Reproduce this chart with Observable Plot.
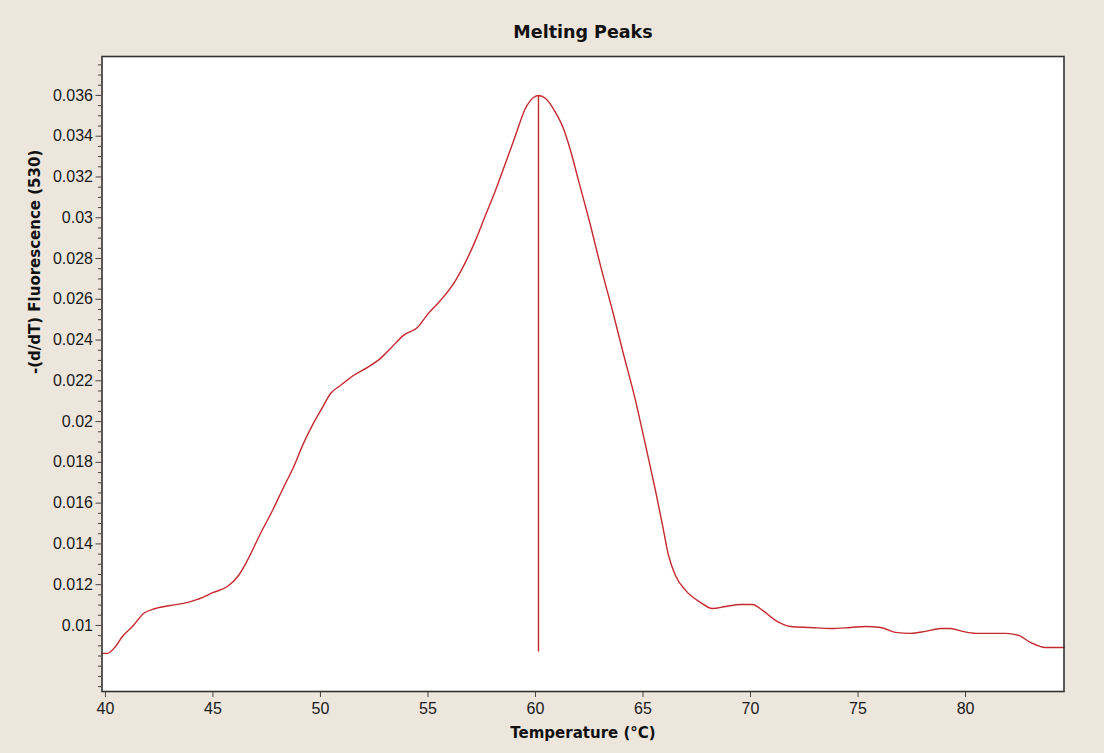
<!DOCTYPE html>
<html>
<head>
<meta charset="utf-8">
<script src="https://cdn.jsdelivr.net/npm/d3@7"></script>
<script src="https://cdn.jsdelivr.net/npm/@observablehq/plot@0.6"></script>
<style>
  html, body { margin: 0; padding: 0; background: #ece6dd; overflow: hidden; }
  #chart svg { display: block; }
</style>
</head>
<body>
<div id="chart"></div>
<script>
// ---- data ----
const temperature = [39.84, 40.09, 40.47, 40.79, 41.30, 41.77, 42.33, 43.02, 43.63, 44.28, 45.02, 45.67, 46.19, 46.60, 47.21, 47.77, 48.28, 48.74, 49.21, 49.67, 50.09, 50.47, 50.93, 51.53, 52.19, 52.79, 53.26, 53.86, 54.51, 55.02, 55.58, 56.28, 56.74, 57.21, 57.67, 58.14, 58.60, 59.07, 59.53, 59.91, 60.14, 60.47, 60.93, 61.30, 61.63, 62.00, 62.56, 63.02, 63.58, 64.05, 64.65, 65.12, 65.58, 65.91, 66.19, 66.51, 66.98, 67.67, 68.23, 68.84, 69.53, 70.09, 70.56, 71.16, 71.86, 72.79, 73.72, 74.65, 75.35, 76.05, 76.74, 77.44, 78.14, 78.84, 79.30, 79.86, 80.47, 81.16, 81.86, 82.47, 83.02, 83.72, 84.58];
const fluorescence = [0.00863, 0.00863, 0.00897, 0.00946, 0.0100, 0.01059, 0.01083, 0.01098, 0.01108, 0.01128, 0.01162, 0.01191, 0.01245, 0.01319, 0.01451, 0.01564, 0.01677, 0.01775, 0.01893, 0.01991, 0.02069, 0.02138, 0.02177, 0.02226, 0.02266, 0.02310, 0.02359, 0.02423, 0.02462, 0.02531, 0.02594, 0.02692, 0.02781, 0.02889, 0.03011, 0.03134, 0.03266, 0.03404, 0.03536, 0.03590, 0.03600, 0.03585, 0.03517, 0.03438, 0.03330, 0.03183, 0.02962, 0.02766, 0.02545, 0.02349, 0.02104, 0.01883, 0.01662, 0.01491, 0.01343, 0.01245, 0.01172, 0.01113, 0.01083, 0.01093, 0.01103, 0.01103, 0.01074, 0.01025, 0.00995, 0.0099, 0.00985, 0.0099, 0.00995, 0.0099, 0.00966, 0.00961, 0.00971, 0.00985, 0.00985, 0.00971, 0.00961, 0.00961, 0.00961, 0.00951, 0.00917, 0.00892, 0.00892];
const peakTemperature = [60.14];
const peakRange = [0.0087, 0.0360];

const xTicks = [40, 45, 50, 55, 60, 65, 70, 75, 80];
const yTicks = [0.01, 0.012, 0.014, 0.016, 0.018, 0.02, 0.022, 0.024, 0.026, 0.028, 0.03, 0.032, 0.034, 0.036];
const yTickLabels = ["0.01", "0.012", "0.014", "0.016", "0.018", "0.02", "0.022", "0.024", "0.026", "0.028", "0.03", "0.032", "0.034", "0.036"];
const yMinorTicks = [0.007, 0.0075, 0.008, 0.0085, 0.009, 0.0095, 0.0105, 0.011, 0.0115, 0.0125, 0.013, 0.0135, 0.0145, 0.015, 0.0155, 0.0165, 0.017, 0.0175, 0.0185, 0.019, 0.0195, 0.0205, 0.021, 0.0215, 0.0225, 0.023, 0.0235, 0.0245, 0.025, 0.0255, 0.0265, 0.027, 0.0275, 0.0285, 0.029, 0.0295, 0.0305, 0.031, 0.0315, 0.0325, 0.033, 0.0335, 0.0345, 0.035, 0.0355, 0.0365, 0.037, 0.0375];

const titleText = "Melting Peaks";
const xLabel = "Temperature (°C)";
const yLabel = "-(d/dT) Fluorescence (530)";

const data = temperature.map((t, i) => ({t, v: fluorescence[i]}));
const peak = peakTemperature.map(t => ({t, y1: peakRange[0], y2: peakRange[1]}));

const red = "#c62a2e";
const tickColor = "#444";
const labelFont = "'Liberation Sans', Arial, sans-serif";
const boldFont = "'DejaVu Sans', Verdana, sans-serif";

const chart = Plot.plot({
  width: 1104,
  height: 753,
  marginLeft: 101.5,
  marginRight: 40.5,
  marginTop: 56,
  marginBottom: 62,
  style: {background: "transparent", fontFamily: labelFont, fontSize: "16px", color: "#1a1a1a"},
  x: {domain: [39.84, 84.58]},
  y: {domain: [0.00676, 0.03791]},
  marks: [
    Plot.frame({fill: "white", stroke: "none"}),
    Plot.axisY({ticks: yMinorTicks, tickSize: 3.5, tickFormat: () => "", label: null, stroke: tickColor}),
    Plot.axisY({ticks: yTicks, tickSize: 6, tickPadding: 3, tickFormat: d => yTickLabels[yTicks.indexOf(d)], label: null, stroke: tickColor, fontSize: 16}),
    Plot.axisX({ticks: xTicks, tickSize: 6, tickPadding: 5, label: null, stroke: tickColor, fontSize: 16}),
    Plot.line(data, {x: "t", y: "v", stroke: red, strokeWidth: 1.4, curve: "monotone-x"}),
    Plot.ruleX(peak, {x: "t", y1: "y1", y2: "y2", stroke: red, strokeWidth: 1.4}),
    Plot.frame({stroke: "#333", strokeWidth: 1.6}),
    Plot.text([titleText], {frameAnchor: "top", dy: -31, fontFamily: boldFont, fontWeight: "bold", fontSize: 17.5, fill: "#111"}),
    Plot.text([xLabel], {frameAnchor: "bottom", dy: 46, fontFamily: boldFont, fontWeight: "bold", fontSize: 15, fill: "#111"}),
    Plot.text([yLabel], {frameAnchor: "left", dx: -67, rotate: -90, fontFamily: boldFont, fontWeight: "bold", fontSize: 15, fill: "#111"})
  ]
});

document.getElementById("chart").appendChild(chart);
</script>
</body>
</html>
